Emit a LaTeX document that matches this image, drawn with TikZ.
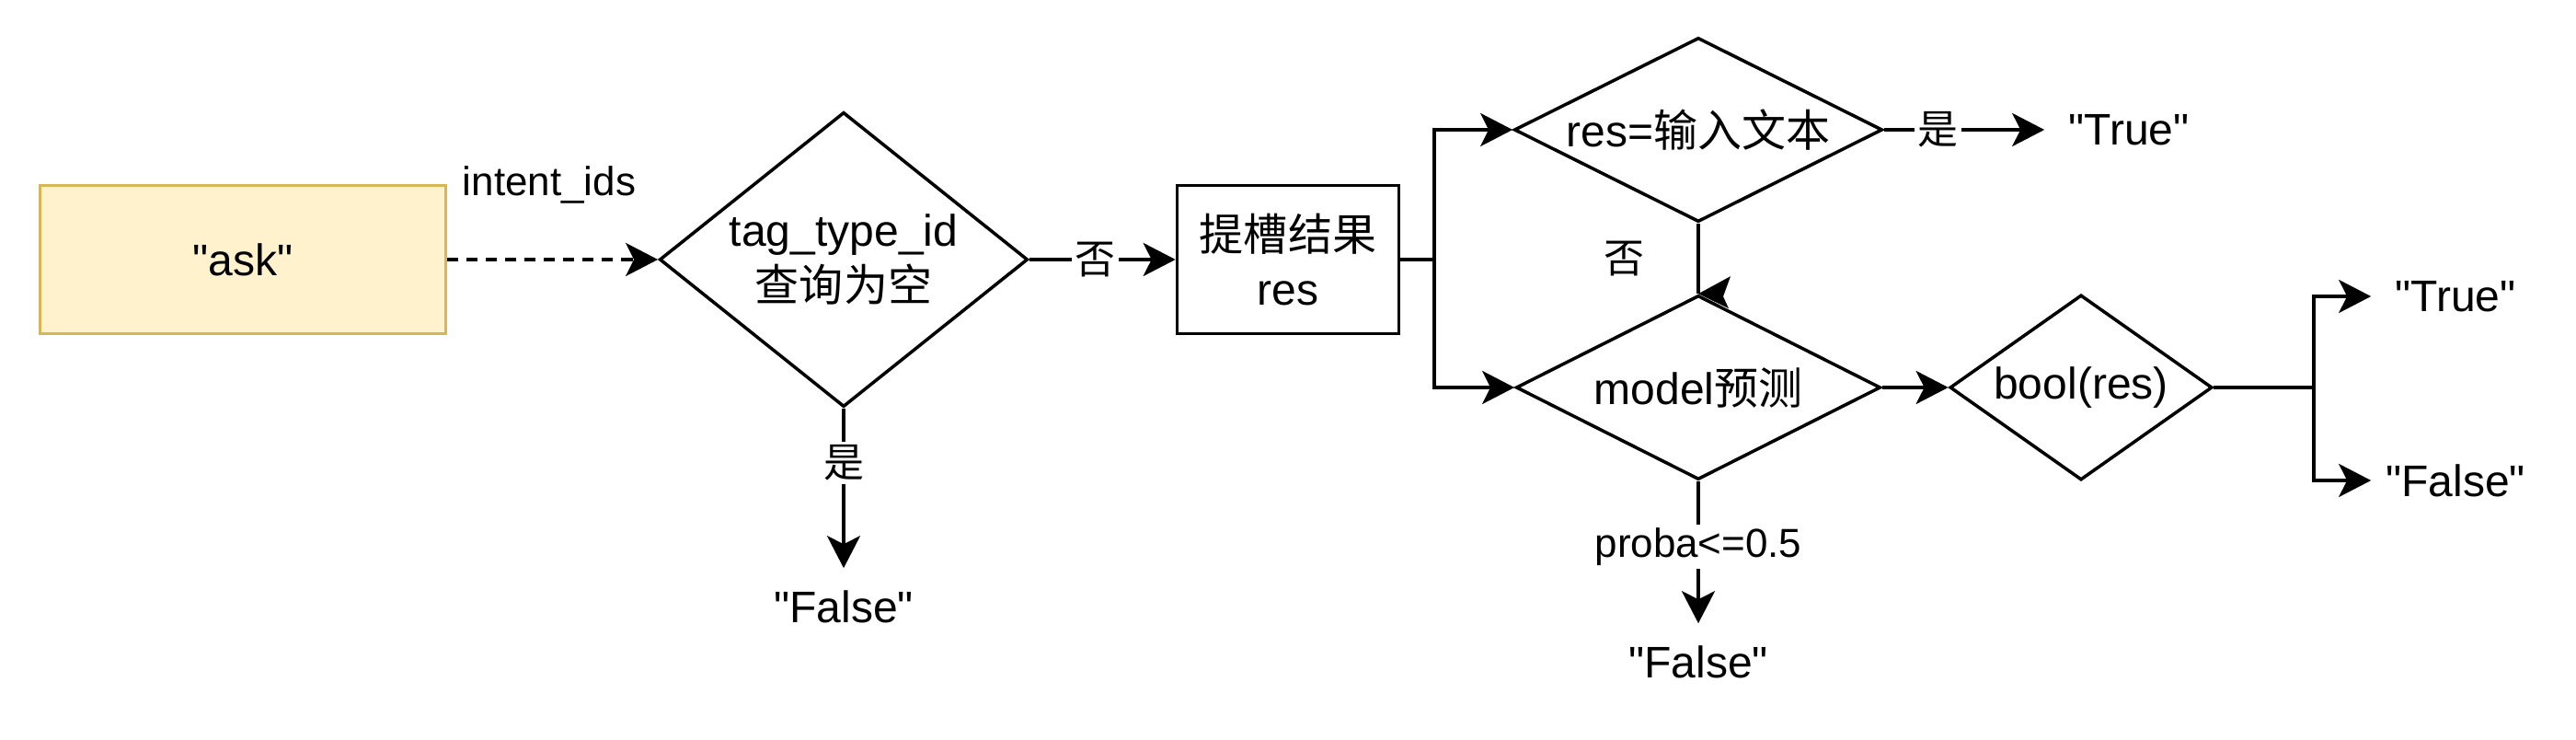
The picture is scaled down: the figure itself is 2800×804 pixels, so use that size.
\documentclass[tikz,border=0pt]{standalone}
\usepackage{fontspec}
\setmainfont{Liberation Sans}
\newfontfamily\lat{Liberation Sans}
\newfontfamily\cjk{Noto Sans CJK SC}
\usetikzlibrary{shapes.geometric,arrows.meta}
\definecolor{askfill}{HTML}{FFF2CC}
\definecolor{askdraw}{HTML}{D6B656}
\begin{document}
\begin{tikzpicture}[x=0.01cm,y=-0.01cm,
  line width=1pt,
  >={Stealth[length=0.35cm,width=0.36cm,inset=0.09cm]},
  nfont/.style={font=\lat\fontsize{13.66pt}{17pt}\selectfont},
  lfont/.style={font=\lat\fontsize{12.5pt}{15pt}\selectfont},
  box/.style={draw, rectangle, nfont, align=center, inner sep=0pt},
  dec/.style={draw, diamond, nfont, align=center, inner sep=0pt},
  endtext/.style={nfont, minimum width=1.8cm, minimum height=0.8cm, inner sep=0pt},
  elabel/.style={lfont, fill=white, inner sep=1pt},
  flow/.style={->}
]
\useasboundingbox (0,0) rectangle (2800,804);

\node[box, fill=askfill, draw=askdraw, minimum width=4.41cm, minimum height=1.61cm] (ask) at (264,282) {"ask"};
\node[dec, aspect=1.25, minimum width=4cm, minimum height=3.2cm] (d1) at (917,282) {tag\_type\_id\\{\cjk 查询为空}};
\node[box, minimum width=2.41cm, minimum height=1.61cm] (res) at (1400,282) {{\cjk 提槽结果}\\res};
\node[dec, aspect=2, minimum width=4cm, minimum height=2cm] (d2) at (1846,141) {res={\cjk 输入文本}};
\node[dec, aspect=2, minimum width=3.96cm, minimum height=2cm] (d3) at (1846,421) {model{\cjk 预测}};
\node[dec, aspect=1.42, minimum width=2.85cm, minimum height=2.01cm] (d4) at (2262,421) {bool(res)};

\node[endtext] (f1) at (917,659) {"False"};
\node[endtext] (t2) at (2314,141) {"True"};
\node[endtext] (f3) at (1846,719) {"False"};
\node[endtext] (t4) at (2669,322) {"True"};
\node[endtext] (f4) at (2669,522) {"False"};

\node[lfont] (lint) at (597,201) {intent\_ids};

\coordinate (j1) at (1559,282);
\coordinate (j2) at (2515,421);

\draw[flow, dash pattern=on 0.12cm off 0.09cm] (ask.east) -- (d1.west);
\draw[flow] (d1.east) -- node[elabel, pos=0.45] {\cjk 否} (res.west);
\draw[flow] (d1.south) -- node[elabel, pos=0.34] {\cjk 是} (f1.north);
\draw (res.east) -- (j1);
\draw[flow] (j1) |- (d2.west);
\draw[flow] (j1) |- (d3.west);
\draw[flow] (d2.east) -- node[elabel, pos=0.335] {\cjk 是} (t2.west);
\draw (d2.south) -- node[lfont, midway, xshift=-0.8cm] {\cjk 否} (d3.north);
\fill (d3.north) -- ++(35,-19) -- ++(-8,22) -- ++(6,13) -- cycle;
\draw[flow] (d3.east) -- (d4.west);
\draw[flow] (d3.south) -- node[elabel, pos=0.46] {proba<=0.5} (f3.north);
\draw (d4.east) -- (j2);
\draw[flow] (j2) |- (t4.west);
\draw[flow] (j2) |- (f4.west);
\end{tikzpicture}
\end{document}
